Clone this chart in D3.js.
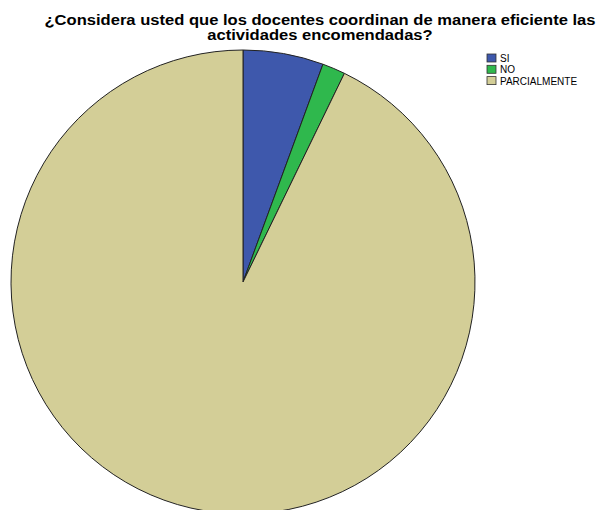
<!DOCTYPE html>
<html>
<head>
<meta charset="utf-8">
<script src="https://cdn.jsdelivr.net/npm/d3@7"></script>
<style>
  body { margin: 0; background: #fff; overflow: hidden; }
  svg { display: block; }
</style>
</head>
<body>
<div id="chart"></div>
<script>
// ---------------------------
// DATA
// ---------------------------
const categories = ["SI", "NO", "PARCIALMENTE"];
const counts = [7, 2, 116];
const colors = ["#3e58ac", "#2fb84d", "#d3ce97"];
const titleLines = [
  "¿Considera usted que los docentes coordinan de manera eficiente las",
  "actividades encomendadas?"
];

const width = 601;
const height = 510;
const cx = 243, cy = 282, radius = 232;

const svg = d3.select("#chart")
  .append("svg")
  .attr("width", width)
  .attr("height", height);

// Title (stretched a bit to match the wider original rendering)
const titles = svg.append("g")
  .selectAll("text")
  .data(titleLines)
  .join("text")
  .attr("x", 320)
  .attr("y", (d, i) => 24.5 + i * 15)
  .attr("text-anchor", "middle")
  .style("font-family", "Arial, 'Liberation Sans', sans-serif")
  .style("font-size", "14.5px")
  .style("font-weight", "bold")
  .attr("fill", "#000")
  .text(d => d);

const firstLen = titles.node().getComputedTextLength();
const k = 551 / firstLen;
titles.each(function () {
  const len = this.getComputedTextLength();
  d3.select(this)
    .attr("textLength", len * k)
    .attr("lengthAdjust", "spacingAndGlyphs");
});

// Pie
const data = categories.map((c, i) => ({ cat: c, value: counts[i], color: colors[i] }));

const pie = d3.pie()
  .value(d => d.value)
  .sort(null);

const arc = d3.arc()
  .innerRadius(0)
  .outerRadius(radius);

const g = svg.append("g")
  .attr("transform", `translate(${cx},${cy})`);

g.selectAll("path")
  .data(pie(data))
  .join("path")
  .attr("d", arc)
  .attr("fill", d => d.data.color)
  .attr("stroke", "#222")
  .attr("stroke-width", 1);

// Legend
const legend = svg.append("g")
  .attr("transform", "translate(487,54)");

const rows = legend.selectAll("g")
  .data(data)
  .join("g")
  .attr("transform", (d, i) => `translate(0,${i * 11.3})`);

rows.append("rect")
  .attr("width", 9)
  .attr("height", 8)
  .attr("fill", d => d.color)
  .attr("stroke", "#333")
  .attr("stroke-width", 0.8);

rows.append("text")
  .attr("x", 13)
  .attr("y", 8)
  .style("font-family", "Arial, 'Liberation Sans', sans-serif")
  .style("font-size", "10px")
  .attr("fill", "#000")
  .text(d => d.cat);
</script>
</body>
</html>
